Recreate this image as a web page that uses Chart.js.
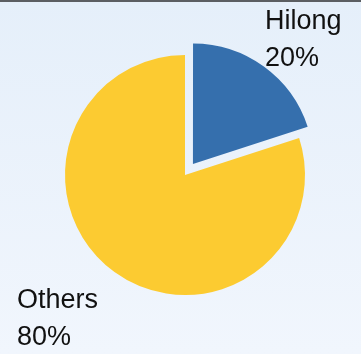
<!DOCTYPE html>
<html>
<head>
<meta charset="utf-8">
<script src="https://cdn.jsdelivr.net/npm/chart.js@4.4.0/dist/chart.umd.min.js"></script>
<style>
html,body{margin:0;padding:0}
body{width:361px;height:354px;overflow:hidden;background:linear-gradient(#e5effa,#f1f6fd)}
#wrap{position:absolute;left:0;top:0;width:361px;height:354px;border-top:2px solid #5b5e62;box-sizing:border-box}
</style>
</head>
<body>
<div id="wrap"><canvas id="pie" width="361" height="352"></canvas></div>
<script>
const labels=["Hilong","Others"]
const shares=[20,80]
const colors=["#356fad","#fccb31"]

// text labels placed beside the slices
const labelText={
id:"labelText",
afterDraw(chart){
const c=chart.ctx
c.save()
c.fillStyle="#111"
c.font="27px 'Liberation Sans', Arial, sans-serif"
c.textBaseline="alphabetic"
c.fillText(labels[0],265,27)
c.fillText(shares[0]+"%",265,64)
c.fillText(labels[1],17,306)
c.fillText(shares[1]+"%",17,343)
c.restore()
}
}

new Chart(document.getElementById("pie"),{
type:"pie",
data:{
labels:labels,
datasets:[{
data:shares,
backgroundColor:colors,
borderWidth:0,
offset:[54,0]
}]
},
options:{
responsive:false,
animation:false,
layout:{padding:{left:38,right:29,top:26,bottom:32}},
plugins:{legend:{display:false},tooltip:{enabled:false}}
},
plugins:[labelText]
})
</script>
</body>
</html>
